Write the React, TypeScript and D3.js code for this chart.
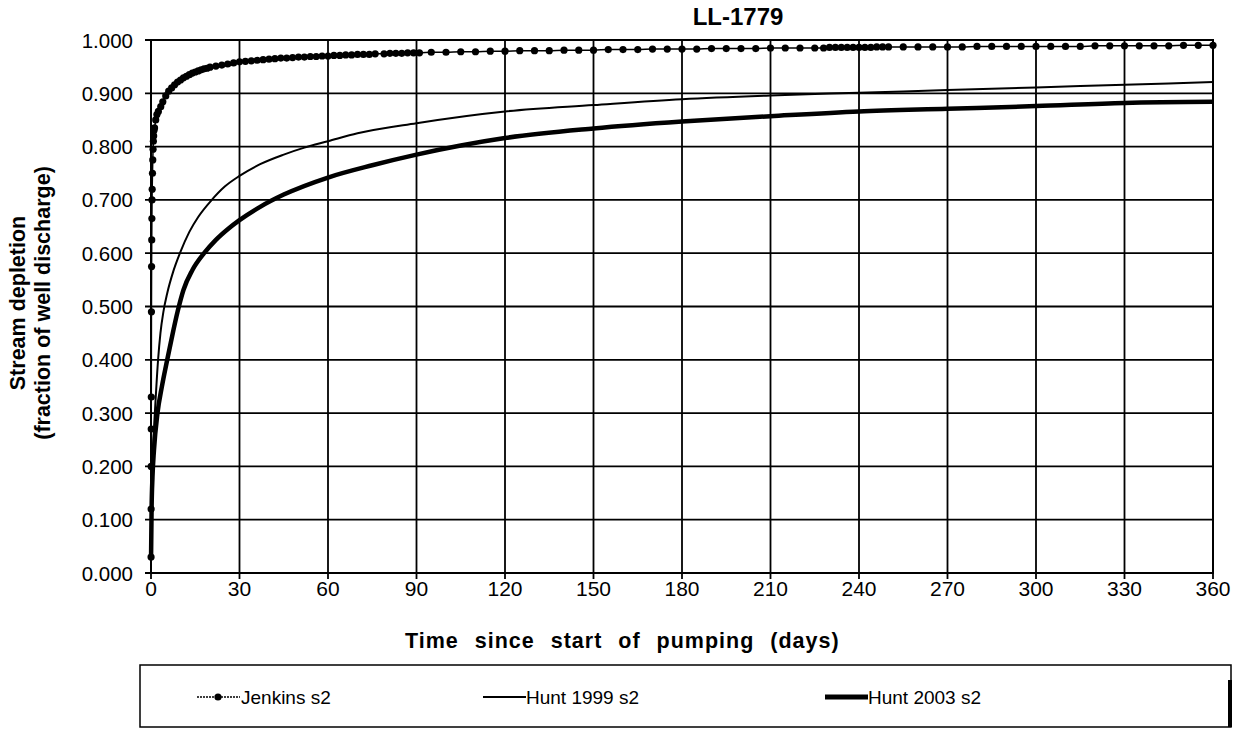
import React from "react";
import * as d3 from "d3";

// ---- data ----
const jenkinsDays = [
  0.02, 0.04, 0.06, 0.08, 0.1, 0.15, 0.2, 0.25, 0.3, 0.35, 0.4, 0.5, 0.6, 0.7, 0.8, 0.9, 1.0, 1.2, 1.6, 2.0,
  2.5, 3.3, 4, 5, 6, 7, 8, 9, 10, 11, 12, 13, 14, 15, 16, 17, 18, 19, 20, 22, 24, 26, 28, 30, 32, 34, 36, 38,
  40, 42, 44, 46, 48, 50, 52, 54, 56, 58, 60, 62, 64, 66, 68, 70, 72, 74, 76, 79, 81, 83, 85, 87, 89, 91,
  95, 100, 105, 110, 115, 120, 125, 130, 135, 140, 145, 150, 155, 160, 165, 170, 175, 180, 185, 190, 195,
  200, 205, 210, 215, 220, 225, 228, 230, 232, 234, 236, 238, 240, 242, 244, 246, 248, 250, 255, 260, 265,
  270, 275, 280, 285, 290, 295, 300, 305, 310, 315, 320, 325, 330, 335, 340, 345, 350, 355, 360,
];
const jenkinsValues = [
  0.03, 0.12, 0.2, 0.27, 0.33, 0.49, 0.575, 0.625, 0.665, 0.7, 0.72, 0.75, 0.775, 0.795, 0.81, 0.82, 0.83,
  0.835, 0.85, 0.86, 0.866, 0.875, 0.884, 0.895, 0.904, 0.91, 0.916, 0.921, 0.925, 0.929, 0.932, 0.935,
  0.938, 0.94, 0.942, 0.944, 0.946, 0.947, 0.949, 0.951, 0.953, 0.955, 0.957, 0.959, 0.96, 0.961, 0.962,
  0.963, 0.964, 0.965, 0.966, 0.966, 0.967, 0.968, 0.968, 0.969, 0.969, 0.97, 0.97, 0.971, 0.971, 0.972,
  0.972, 0.973, 0.973, 0.973, 0.974, 0.974, 0.975, 0.975, 0.975, 0.976, 0.976, 0.976,
  0.977, 0.977, 0.978, 0.978, 0.979, 0.979, 0.98, 0.98, 0.98, 0.981, 0.981, 0.981, 0.982, 0.982, 0.982,
  0.983, 0.983, 0.983, 0.983, 0.984, 0.984, 0.984, 0.984, 0.985, 0.985, 0.985, 0.985, 0.985, 0.986, 0.986,
  0.986, 0.986, 0.986, 0.986, 0.986, 0.986, 0.987, 0.987, 0.987, 0.987, 0.987, 0.987, 0.987, 0.987, 0.988,
  0.988, 0.988, 0.988, 0.988, 0.988, 0.988, 0.988, 0.989, 0.989, 0.989, 0.989, 0.989, 0.989, 0.99, 0.99,
  0.99, 0.99,
];
const hunt1999Days = [0.02, 0.1, 0.4, 0.8, 1.3, 2.4, 3.2, 4.2, 5.5, 7.5, 9.8, 13, 16, 20.6, 25, 30, 37, 45, 52, 60, 70, 90, 120, 150, 180, 210, 240, 270, 300, 330, 360];
const hunt1999Values = [0.03, 0.12, 0.2, 0.25, 0.3, 0.4, 0.45, 0.49, 0.525, 0.565, 0.6, 0.64, 0.668, 0.7, 0.725, 0.745, 0.767, 0.785, 0.798, 0.81, 0.825, 0.844, 0.866, 0.878, 0.889, 0.896, 0.901, 0.906, 0.911, 0.916, 0.921];
const hunt2003Days = [0.02, 0.2, 0.5, 1, 2.2, 3.7, 5.5, 7, 9, 11, 14, 18, 22, 26, 30, 37, 45, 60, 75, 90, 105, 120, 150, 180, 210, 240, 270, 300, 330, 360];
const hunt2003Values = [0.03, 0.12, 0.18, 0.23, 0.3, 0.35, 0.4, 0.44, 0.49, 0.531, 0.568, 0.6, 0.625, 0.645, 0.662, 0.687, 0.71, 0.742, 0.765, 0.785, 0.802, 0.816, 0.834, 0.847, 0.857, 0.866, 0.871, 0.876, 0.882, 0.884];

const xTicks = [0, 30, 60, 90, 120, 150, 180, 210, 240, 270, 300, 330, 360];
const yTicks = [0, 0.1, 0.2, 0.3, 0.4, 0.5, 0.6, 0.7, 0.8, 0.9, 1.0];
const title = "LL-1779";
const xTitle = "Time since start of pumping (days)";
const yTitle1 = "Stream depletion";
const yTitle2 = "(fraction of well discharge)";
const legendLabels = ["Jenkins s2", "Hunt 1999 s2", "Hunt 2003 s2"];

const W = 1235;
const H = 729;
const FONT = "'Liberation Sans', Arial, sans-serif";

export default function App() {
  const x = d3.scaleLinear().domain([0, 360]).range([151, 1213]);
  const y = d3.scaleLinear().domain([0, 1]).range([573, 40]);

  const line = d3
    .line<[number, number]>()
    .x((d) => x(d[0]))
    .y((d) => y(d[1]))
    .curve(d3.curveMonotoneX);

  const jenkins: [number, number][] = jenkinsDays.map((d, i) => [d, jenkinsValues[i]]);
  const h99: [number, number][] = hunt1999Days.map((d, i) => [d, hunt1999Values[i]]);
  const h03: [number, number][] = hunt2003Days.map((d, i) => [d, hunt2003Values[i]]);

  const [x0, x1] = x.range();
  const [yb, yt] = y.range();

  const legY = 697;

  return (
    <svg
      width={W}
      height={H}
      style={{ position: "absolute", left: 0, top: 0, background: "#fff" }}
      fontFamily={FONT}
    >
      <rect x={0} y={0} width={W} height={H} fill="#fff" />
      <defs>
        <clipPath id="plot">
          <rect x={x0 - 6} y={yt - 6} width={x1 - x0 + 12} height={yb - yt + 6} />
        </clipPath>
      </defs>
      {/* gridlines */}
      {xTicks.map((t) => (
        <line key={"gx" + t} x1={x(t)} x2={x(t)} y1={yt} y2={yb + 6} stroke="#000" strokeWidth={1.8} />
      ))}
      {yTicks.map((t) => (
        <line key={"gy" + t} x1={x0 - 6} x2={x1} y1={y(t)} y2={y(t)} stroke="#000" strokeWidth={1.8} />
      ))}
      <rect x={x0} y={yt} width={x1 - x0} height={yb - yt} fill="none" stroke="#000" strokeWidth={2} />

      {/* tick labels */}
      {xTicks.map((t) => (
        <text key={"tx" + t} x={x(t)} y={yb + 23} textAnchor="middle" fontSize={21} fill="#000">
          {t}
        </text>
      ))}
      {yTicks.map((t) => (
        <text key={"ty" + t} x={133} y={y(t) + 7.5} textAnchor="end" fontSize={20.5} fill="#000">
          {t.toFixed(3)}
        </text>
      ))}

      {/* series */}
      <g clipPath="url(#plot)">
        <path d={line(h03) || ""} fill="none" stroke="#000" strokeWidth={4.5} />
        <path d={line(h99) || ""} fill="none" stroke="#000" strokeWidth={2} />
        <path d={line(jenkins) || ""} fill="none" stroke="#000" strokeWidth={1.5} />
        {jenkins.map((d, i) => (
          <circle key={"j" + i} cx={x(d[0])} cy={y(d[1])} r={3.6} fill="#000" />
        ))}
      </g>

      {/* titles */}
      <text x={738} y={25} textAnchor="middle" fontSize={24} fontWeight="bold" fill="#000">
        {title}
      </text>
      <text
        x={405}
        y={648}
        fontSize={21.5}
        fontWeight="bold"
        fill="#000"
        style={{ wordSpacing: "9px", letterSpacing: "1px" }}
      >
        {xTitle}
      </text>
      <text
        transform={`translate(25,303) rotate(-90)`}
        textAnchor="middle"
        fontSize={21.5}
        fontWeight="bold"
        fill="#000"
      >
        {yTitle1}
      </text>
      <text
        transform={`translate(50,303) rotate(-90)`}
        textAnchor="middle"
        fontSize={21.5}
        fontWeight="bold"
        fill="#000"
      >
        {yTitle2}
      </text>

      {/* legend */}
      <rect x={140} y={665} width={1091} height={62} fill="none" stroke="#000" strokeWidth={1.5} />
      <line x1={1230} x2={1230} y1={680} y2={727} stroke="#000" strokeWidth={4} />
      <line x1={197} x2={240} y1={legY} y2={legY} stroke="#000" strokeWidth={1.5} strokeDasharray="2,1" />
      <circle cx={218} cy={legY} r={3.6} fill="#000" />
      <text x={241} y={legY + 7} fontSize={19} fill="#000">
        {legendLabels[0]}
      </text>
      <line x1={483} x2={526} y1={legY} y2={legY} stroke="#000" strokeWidth={2} />
      <text x={526} y={legY + 7} fontSize={19} fill="#000">
        {legendLabels[1]}
      </text>
      <line x1={825} x2={868} y1={legY} y2={legY} stroke="#000" strokeWidth={5} />
      <text x={868} y={legY + 7} fontSize={19} fill="#000">
        {legendLabels[2]}
      </text>
    </svg>
  );
}
